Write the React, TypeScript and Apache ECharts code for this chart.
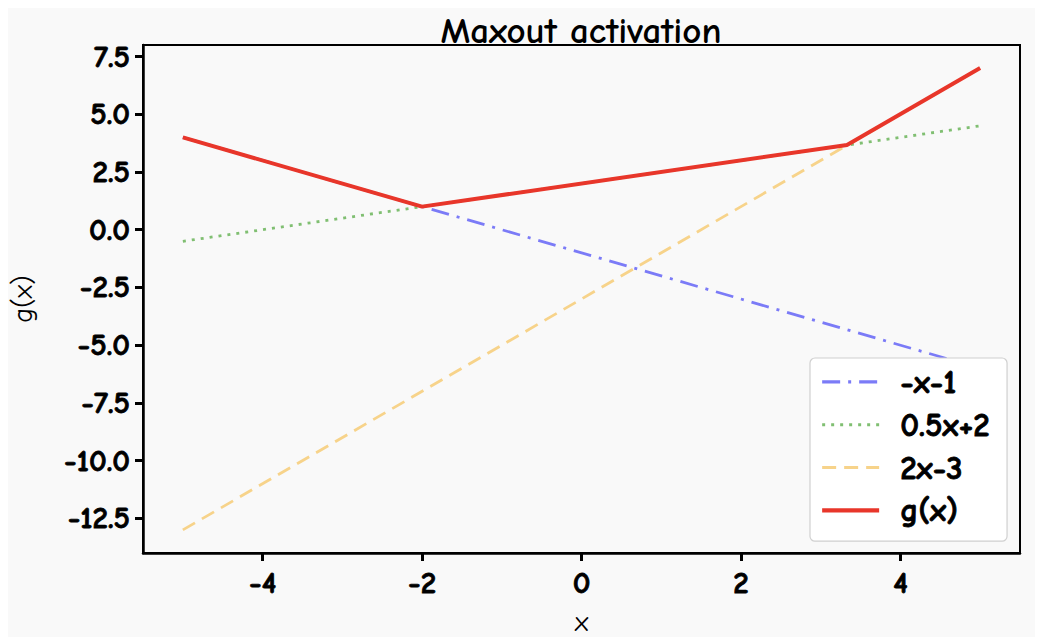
import React, { useEffect, useRef } from "react";
import * as echarts from "echarts";

const title = "Maxout activation";
const xTicks = [-4, -2, 0, 2, 4];
const yTicks = [-12.5, -10, -7.5, -5, -2.5, 0, 2.5, 5, 7.5];

const seriesNames = ["-x-1", "0.5x+2", "2x-3", "g(x)"];
const lineA: [number, number][] = [[-5, 4], [5, -6]];
const lineB: [number, number][] = [[-5, -0.5], [5, 4.5]];
const lineC: [number, number][] = [[-5, -13], [5, 7]];
const lineG: [number, number][] = [[-5, 4], [-2, 1], [3.33, 3.67], [5, 7]];

const colors = ["#7b7bf7", "#80bf72", "#f7d38a", "#e8362a"];
const widths = [2.8, 2.8, 2.8, 4];
const dashes: any[] = [[18, 8, 3, 8], [3, 6], [14, 8], "solid"];

const FONT = "Comic Neue, DejaVu Sans, sans-serif";

export default function App() {
  const ref = useRef<HTMLDivElement>(null);
  useEffect(() => {
    if (!ref.current) return;
    const chart = echarts.init(ref.current, undefined, { renderer: "svg" });
    const bold = { textBorderColor: "#000", textBorderWidth: 0.8 };
    const datas = [lineA, lineB, lineC, lineG];
    chart.setOption({
      animation: false,
      backgroundColor: "#f9f9f9",
      title: {
        text: title,
        left: 568,
        textAlign: "center",
        top: -1,
        textStyle: { fontFamily: FONT, fontSize: 37, fontWeight: "bold", color: "#000" },
      },
      grid: {
        left: 135,
        top: 37,
        width: 877,
        height: 508,
        show: true,
        borderColor: "#000",
        borderWidth: 2,
        backgroundColor: "transparent",
        containLabel: false,
        outerBoundsMode: "none",
      },
      legend: {
        left: 802,
        top: 350,
        orient: "vertical",
        backgroundColor: "#ffffff",
        borderColor: "#d0d0d0",
        borderWidth: 1.2,
        borderRadius: 5,
        padding: [7, 17, 14, 10],
        itemWidth: 57,
        itemHeight: 20,
        itemGap: 9,
        itemStyle: { opacity: 0 },
        data: seriesNames.map((n, i) => ({
          name: n,
          lineStyle: { color: colors[i], width: widths[i] + 0.3, type: dashes[i] },
        })),
        textStyle: {
          fontFamily: FONT,
          fontSize: 33,
          fontWeight: "bold",
          color: "#000",
          padding: [0, 0, 0, 16],
          ...bold,
        },
      },
      xAxis: {
        type: "value",
        min: -5.5,
        max: 5.5,
        name: "x",
        nameLocation: "middle",
        nameGap: 55,
        nameTextStyle: { fontFamily: FONT, fontSize: 28, color: "#000" },
        axisLine: { show: true, onZero: false, lineStyle: { color: "#000", width: 2.5 } },
        axisTick: { show: true, customValues: xTicks, length: 8, lineStyle: { color: "#000", width: 3 } },
        axisLabel: {
          customValues: xTicks,
          margin: 14,
          fontFamily: FONT,
          fontSize: 31,
          fontWeight: "bold",
          color: "#000",
          ...bold,
        },
        splitLine: { show: false },
      },
      yAxis: {
        type: "value",
        min: -14,
        max: 8,
        name: "g(x)",
        nameLocation: "middle",
        nameGap: 106,
        nameRotate: 90,
        nameTextStyle: { fontFamily: FONT, fontSize: 28, color: "#000" },
        axisLine: { show: true, onZero: false, lineStyle: { color: "#000", width: 2.5 } },
        axisTick: { show: true, customValues: yTicks, length: 8, lineStyle: { color: "#000", width: 3 } },
        axisLabel: {
          customValues: yTicks,
          margin: 13,
          fontFamily: FONT,
          fontSize: 31,
          fontWeight: "bold",
          color: "#000",
          formatter: (v: number) => v.toFixed(1),
          ...bold,
        },
        splitLine: { show: false },
      },
      series: seriesNames.map((n, i) => ({
        name: n,
        type: "line",
        data: datas[i],
        showSymbol: false,
        symbol: "none",
        lineStyle: { color: colors[i], width: widths[i], type: dashes[i] },
        itemStyle: { color: colors[i] },
      })),
    });
    return () => chart.dispose();
  }, []);
  return <div ref={ref} style={{ width: 1035, height: 629 }} />;
}
